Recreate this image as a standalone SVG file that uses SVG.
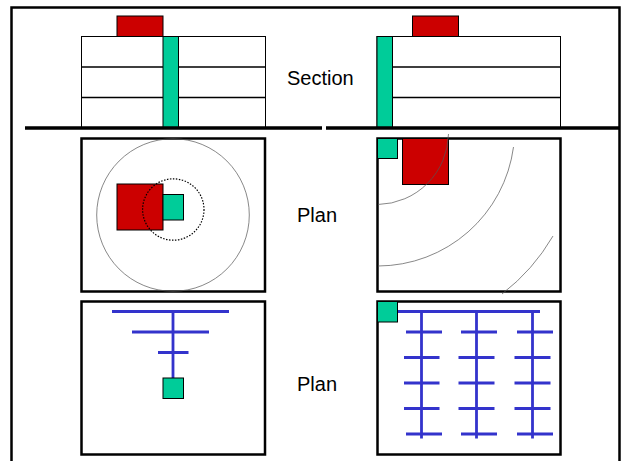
<svg xmlns="http://www.w3.org/2000/svg" width="624" height="461" viewBox="0 0 624 461">
<style>
.frame{fill:none;stroke:#000;stroke-width:2.5}
.ground{fill:none;stroke:#000;stroke-width:3.5}
.box{fill:#fff;stroke:#000;stroke-width:2.5}
.wall{fill:#fff;stroke:#000;stroke-width:1}
.floor{fill:none;stroke:#000;stroke-width:1.5}
.red{fill:#cc0000;stroke:#000;stroke-width:1}
.green{fill:#00cc99;stroke:#000;stroke-width:1}
.thin{fill:none;stroke:#555;stroke-width:.7}
.dot{fill:none;stroke:#000;stroke-width:1.2;stroke-dasharray:1.5 1.5}
.blue{fill:none;stroke:#3333cc;stroke-width:2.8}
text{font-family:"Liberation Sans",Arial,sans-serif;font-size:20px;fill:#000}
</style>
<rect width="624" height="461" fill="#fff"/>
<path class="frame" d="M11.500 461V7.500H619.500V461"/>
<g id="section-left">
<rect class="wall" x="81.500" y="36.500" width="184" height="91.500"/>
<path class="floor" d="M81.500 67H265.500M81.500 97.500H265.500"/>
<rect class="red" x="117" y="16" width="46" height="20.500"/>
<rect class="green" x="163" y="36.500" width="15.500" height="91.500"/>
</g>
<g id="section-right">
<rect class="wall" x="377" y="36.500" width="183.500" height="91.500"/>
<path class="floor" d="M377 67H560.500M377 97.500H560.500"/>
<rect class="red" x="412.500" y="16" width="46" height="20.500"/>
<rect class="green" x="377" y="36.500" width="15.500" height="91.500"/>
</g>
<path id="ground" class="ground" d="M25 128H322M326 128H620"/>
<g id="plan-circle">
<rect class="box" x="81.500" y="138.500" width="183.500" height="153"/>
<circle class="thin" cx="173" cy="215" r="76.300"/>
<rect class="red" x="117" y="184" width="46" height="46"/>
<rect class="green" x="163" y="194.500" width="20.500" height="25.500"/>
<circle class="dot" cx="173.300" cy="209.500" r="30.700"/>
</g>
<g id="plan-arcs">
<rect class="box" x="377.500" y="138.500" width="183" height="153"/>
<rect class="red" x="402.500" y="138.500" width="46" height="46"/>
<rect class="green" x="377.500" y="138.500" width="20" height="20"/>
<path class="thin" d="M378 204.500A72 72 0 0 0 448.500 134M378 266A137 137 0 0 0 513.500 147M553 236A200 200 0 0 1 502 294"/>
</g>
<g id="plan-tree">
<rect class="box" x="81.500" y="301.500" width="183.500" height="153"/>
<path class="blue" d="M173 311.500V378M112 311.500H229M132 332H209M158 352.500H188.500"/>
<rect class="green" x="163" y="378" width="20.500" height="20.500"/>
</g>
<g id="plan-grid">
<rect class="box" x="377.500" y="301.500" width="183" height="153"/>
<path class="blue" d="M397 311.500H540M421.500 311.500V438.500M476.500 311.500V438.500M532.500 311.500V438.500M406 332H442M461 332H497M517 332H553M404 357.500H439.500M458.500 357.500H494.500M514.500 357.500H550.500M404 383H439.500M458.500 383H494.500M514.500 383H550.500M404 408.500H439.500M458.500 408.500H494.500M514.500 408.500H550.500M406 434H442M461 434H497M517 434H553"/>
<rect class="green" x="377.500" y="301.500" width="20" height="20.500"/>
</g>
<text x="287" y="85">Section</text>
<text x="297" y="222">Plan</text>
<text x="297" y="391">Plan</text>
</svg>
